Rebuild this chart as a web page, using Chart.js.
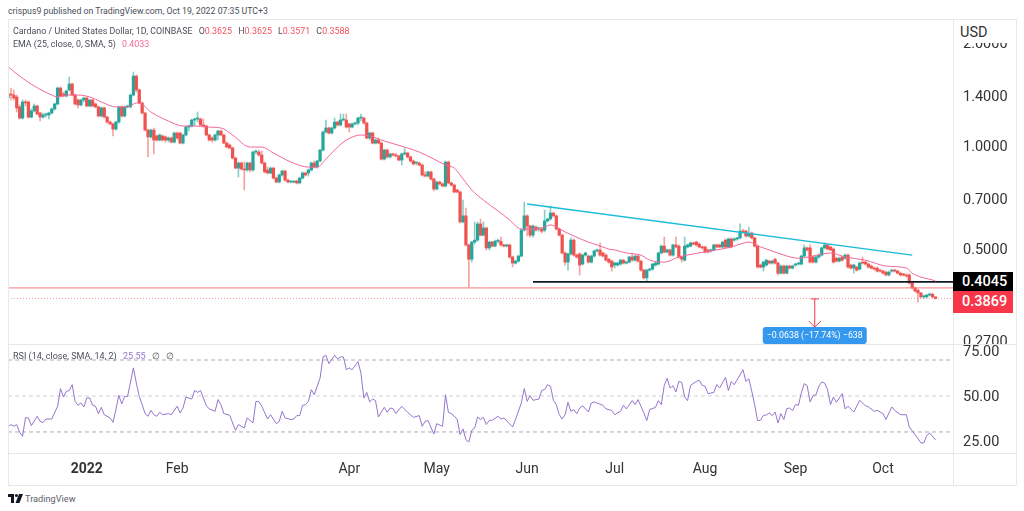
<!DOCTYPE html>
<html>
<head>
<meta charset="utf-8">
<script src="https://cdn.jsdelivr.net/npm/chart.js@4"></script>
<style>
body { margin: 0; background: #fff; font-family: Roboto, sans-serif; color: #4a4e58; }
.abs { position: absolute; white-space: nowrap; }
.line { position: absolute; background: #e6e8ee; }
canvas { position: absolute; }
.red { color: #f7525f; }
.gap { margin-left: 4px; }
.tag { position: absolute; left: 953px; width: 51px; padding-left: 9px; color: #fff; font-size: 14.5px; font-weight: 500; }
</style>
</head>
<body>
<div class="abs" style="left:8px;top:6px;font-size:8.75px">crispus9 published on TradingView.com, Oct 19, 2022 07:35 UTC+3</div>
<canvas id="priceChart" width="1008" height="325" style="left:8px;top:19px"></canvas>
<canvas id="rsiChart" width="1008" height="141" style="left:8px;top:344px"></canvas>
<div class="line" style="left:8px;top:19px;width:1008px;height:1px"></div>
<div class="line" style="left:8px;top:344px;width:1008px;height:1px"></div>
<div class="line" style="left:8px;top:453px;width:1008px;height:1px"></div>
<div class="line" style="left:8px;top:485px;width:1008px;height:1px"></div>
<div class="line" style="left:8px;top:19px;width:1px;height:466px"></div>
<div class="line" style="left:953px;top:19px;width:1px;height:466px"></div>
<div class="line" style="left:1016px;top:19px;width:1px;height:466px"></div>
<div class="abs" style="left:955px;top:21px;width:60px;height:22px;background:#fff"></div>
<div class="abs" style="left:960px;top:24px;font-size:14.5px;color:#333">USD</div>
<div class="abs" style="left:13px;top:26px;font-size:8.9px">Cardano / United States Dollar, 1D, COINBASE <span class="gap">O</span><span class="red">0.3625</span> <span class="gap">H</span><span class="red">0.3625</span> <span class="gap">L</span><span class="red">0.3571</span> <span class="gap">C</span><span class="red">0.3588</span></div>
<div class="abs" style="left:13px;top:39px;font-size:8.9px">EMA (25, close, 0, SMA, 5) <span class="gap" style="color:#f4679b">0.4033</span></div>
<div class="abs" style="left:13px;top:351px;font-size:9px">RSI (14, close, SMA, 14, 2) <span class="gap" style="color:#9575cd">25.55</span> <span class="gap">∅</span> <span class="gap">∅</span></div>
<div class="tag" style="top:272px;height:19px;line-height:19px;background:#000">0.4045</div>
<div class="tag" style="top:291px;height:22px;line-height:22px;background:#f7364a">0.3869</div>
<svg class="abs" style="left:8px;top:494px" width="15" height="9" viewBox="0 0 15 9"><path d="M0 0h6v9H3V3H0z M11 0h4l-3.5 9H7.5z" fill="#131722"/><circle cx="8.4" cy="1.5" r="1.5" fill="#131722"/></svg>
<div class="abs" style="left:25px;top:493px;font-size:9.2px;color:#5d606b">TradingView</div>

<script>
const priceTicks = [0.27, 0.5, 0.7, 1.0, 1.4, 2.0];
const rsiTicks = [25, 50, 75];
const rsiBands = [70, 50, 30];
const monthDays = [27, 58, 117, 147, 178, 208, 239, 270, 300];
const monthLabels = ['2022', 'Feb', 'Apr', 'May', 'Jun', 'Jul', 'Aug', 'Sep', 'Oct'];

const opens = [
1.381,1.419,1.409,1.391,1.301,1.207,1.345,1.345,1.215,
1.266,1.309,1.249,1.215,1.232,1.232,1.249,1.283,1.327,1.477,
1.419,1.400,1.458,1.518,1.409,1.363,1.318,1.363,1.381,1.309,
1.363,1.327,1.301,1.224,1.292,1.215,1.175,1.160,1.121,1.175,
1.301,1.224,1.301,1.301,1.409,1.601,1.458,1.336,1.249,1.113,
1.063,1.113,1.070,1.041,1.070,1.063,1.041,1.055,1.027,1.091,
1.091,1.020,1.077,1.136,1.144,1.191,1.199,1.199,1.152,1.144,
1.077,1.055,1.041,1.077,1.106,1.077,1.020,1.007,.987,.922,
.862,.892,.857,.851,.892,.851,.960,.960,.941,.892,
.851,.834,.862,.806,.785,.823,.845,.795,.785,.785,.790,
.780,.806,.834,.834,.851,.892,.868,.904,.973,1.099,
1.129,1.091,1.129,1.175,1.152,1.191,1.191,1.160,1.136,1.160,
1.167,1.207,1.207,1.167,1.055,1.091,1.020,1.041,1.020,.916,
.973,.929,.948,.941,.935,.910,.948,.954,.929,.904,
.892,.892,.880,.823,.817,.840,.801,.749,.785,.775,
.764,.898,.780,.769,.744,.734,.600,.625,.514,.467,
.524,.531,.592,.549,.576,.504,.524,.510,.527,.527,
.514,.510,.514,.474,.455,.461,.477,.568,.625,.584,
.549,.580,.572,.572,.568,.604,.612,.637,.625,.572,
.549,.487,.458,.484,.531,.480,.484,.452,.480,.477,
.458,.477,.494,.497,.487,.480,.467,.461,.449,.449,
.452,.464,.455,.458,.474,.464,.477,.461,.434,.412,
.434,.437,.449,.452,.487,.510,.490,.497,.480,.514,
.510,.474,.464,.507,.510,.521,.524,.517,.507,.507,.497,
.494,.497,.514,.514,.507,.531,.507,.535,.531,.535,
.539,.564,.564,.546,.557,.539,.510,.449,.443,
.449,.461,.455,.467,.455,.425,.446,.425,.446,.440,
.449,.452,.452,.477,.504,.504,.474,.458,.474,.480,
.504,.514,.507,.500,.470,.461,.474,.470,.480,.449,
.440,.443,.437,.458,.458,.452,.446,.440,.440,.434,
.431,.428,.420,.431,.434,.431,.425,.423,.420,.420,
.398,.385,.379,.372,.3625,.3625,.367,.369,.3625];

const closes = [
1.419,1.409,1.381,1.292,1.207,1.345,1.336,1.215,1.266,
1.309,1.240,1.215,1.232,1.232,1.249,1.283,1.327,1.477,1.400,
1.400,1.448,1.518,1.409,1.327,1.318,1.363,1.381,1.309,1.363,
1.309,1.301,1.224,1.292,1.215,1.175,1.160,1.121,1.175,1.301,
1.224,1.301,1.301,1.409,1.601,1.458,1.336,1.249,1.113,1.063,
1.113,1.041,1.041,1.077,1.041,1.041,1.055,1.027,1.091,1.055,
1.020,1.077,1.136,1.144,1.191,1.199,1.199,1.152,1.144,1.077,
1.041,1.041,1.077,1.106,1.077,1.020,.993,.987,.922,.862,
.892,.857,.851,.892,.851,.960,.960,.941,.892,.840,
.834,.862,.806,.785,.823,.845,.795,.785,.785,.785,.780,
.806,.834,.823,.851,.892,.868,.904,.973,1.099,1.129,
1.091,1.129,1.175,1.152,1.191,1.191,1.136,1.136,1.160,1.167,
1.207,1.207,1.167,1.055,1.091,1.020,1.041,1.020,.916,.973,
.929,.948,.941,.935,.910,.948,.954,.929,.904,.886,
.892,.880,.823,.817,.840,.801,.749,.785,.775,.764,
.898,.780,.769,.734,.734,.600,.625,.514,.467,.524,
.531,.592,.549,.576,.504,.524,.510,.527,.527,.514,
.510,.514,.474,.455,.461,.477,.568,.625,.584,.549,
.584,.568,.576,.564,.604,.612,.637,.625,.572,.549,
.487,.458,.484,.531,.480,.474,.449,.480,.487,.458,
.477,.494,.497,.480,.477,.464,.458,.443,.455,.455,
.464,.455,.458,.474,.464,.477,.461,.434,.412,.434,
.434,.452,.455,.487,.510,.490,.497,.480,.514,.507,
.474,.467,.510,.514,.521,.517,.514,.507,.504,.490,.490,
.497,.514,.507,.507,.524,.507,.535,.507,.535,.539,
.564,.561,.546,.553,.539,.510,.443,.443,.458,
.464,.455,.461,.455,.425,.446,.425,.446,.440,.446,
.452,.455,.477,.504,.497,.458,.458,.474,.480,.504,
.514,.500,.497,.458,.461,.470,.464,.480,.443,.440,
.449,.434,.455,.455,.452,.443,.440,.437,.431,.431,
.425,.420,.428,.434,.431,.425,.420,.420,.417,.398,
.385,.377,.372,.3625,.3625,.367,.369,.3625,.3588];

const highs = [
1.477,1.477,1.458,1.409,1.318,1.363,1.363,1.354,1.283,
1.327,1.318,1.257,1.249,1.249,1.257,1.292,1.336,1.487,1.487,
1.438,1.458,1.590,1.528,1.419,1.372,1.372,1.391,1.391,1.363,
1.372,1.336,1.309,1.301,1.301,1.224,1.183,1.167,1.183,1.309,
1.309,1.309,1.318,1.419,1.645,1.612,1.467,1.345,1.257,1.121,
1.121,1.129,1.077,1.084,1.077,1.070,1.063,1.063,1.099,1.099,
1.099,1.084,1.144,1.152,1.199,1.207,1.257,1.207,1.199,1.152,
1.084,1.063,1.084,1.113,1.113,1.084,1.027,1.014,.993,.929,
.898,.898,.898,.898,.898,.967,.973,.973,.967,.898,
.868,.868,.868,.812,.829,.851,.851,.801,.790,.790,.795,
.812,.840,.840,.857,.898,.904,.910,.980,1.106,1.191,
1.136,1.136,1.207,1.183,1.240,1.240,1.240,1.167,1.167,1.175,
1.215,1.240,1.215,1.175,1.099,1.099,1.048,1.055,1.027,.980,
.980,.954,.954,.954,.941,.954,.987,.960,.935,.910,
.898,.898,.886,.840,.845,.845,.806,.790,.790,.780,
.904,.904,.785,.775,.749,.739,.695,.659,.517,.527,
.600,.600,.612,.600,.580,.527,.527,.531,.535,.542,
.517,.517,.517,.477,.464,.480,.572,.686,.629,.588,
.588,.584,.580,.576,.650,.616,.668,.641,.629,.576,
.553,.490,.487,.539,.535,.484,.487,.484,.490,.480,
.480,.497,.500,.521,.490,.484,.470,.464,.458,.458,
.467,.467,.461,.477,.487,.480,.480,.464,.437,.437,
.440,.455,.458,.490,.514,.542,.500,.500,.517,.542,
.514,.477,.542,.517,.524,.524,.527,.521,.510,.510,.500,
.500,.517,.517,.517,.527,.535,.539,.539,.539,.542,
.592,.572,.568,.580,.561,.542,.514,.452,.461,
.467,.464,.464,.470,.458,.449,.449,.449,.449,.449,
.455,.458,.480,.514,.507,.514,.477,.477,.484,.507,
.521,.517,.510,.504,.474,.474,.477,.484,.484,.452,
.452,.446,.458,.474,.461,.455,.449,.443,.443,.437,
.434,.431,.431,.437,.437,.434,.428,.425,.423,.423,
.401,.387,.382,.374,.367,.369,.372,.372,.3625];

const lows = [
1.257,1.363,1.363,1.257,1.199,1.199,1.309,1.207,1.207,
1.257,1.232,1.183,1.207,1.215,1.199,1.240,1.274,1.318,1.391,
1.391,1.391,1.448,1.400,1.318,1.292,1.309,1.345,1.301,1.301,
1.301,1.292,1.215,1.215,1.207,1.167,1.152,1.070,1.113,1.167,
1.215,1.215,1.292,1.292,1.400,1.438,1.327,1.240,1.106,.929,
1.055,.948,1.034,1.034,1.034,1.027,1.027,1.020,1.020,1.048,
1.014,1.014,1.070,1.106,1.136,1.144,1.175,1.144,1.136,1.070,
1.034,1.027,1.034,1.041,1.070,1.014,.987,.980,.916,.857,
.812,.851,.744,.845,.840,.845,.948,.935,.886,.834,
.829,.829,.801,.780,.780,.817,.790,.780,.780,.780,.775,
.775,.801,.817,.817,.845,.862,.862,.898,.967,1.091,
1.084,1.084,1.121,1.144,1.144,1.183,1.129,1.099,1.129,1.152,
1.152,1.183,1.160,1.048,1.041,1.014,1.014,1.014,.910,.910,
.922,.922,.935,.929,.904,.880,.941,.922,.898,.880,
.880,.874,.817,.812,.812,.795,.739,.744,.769,.759,
.759,.775,.764,.729,.729,.596,.596,.510,.387,.458,
.517,.527,.546,.546,.497,.497,.507,.507,.521,.510,
.507,.507,.470,.443,.452,.458,.474,.564,.546,.542,
.542,.564,.564,.557,.561,.600,.608,.620,.568,.546,
.484,.449,.434,.480,.477,.470,.420,.449,.477,.455,
.455,.474,.490,.477,.474,.461,.455,.431,.440,.446,
.449,.452,.452,.455,.461,.461,.458,.431,.409,.401,
.431,.434,.446,.449,.484,.487,.487,.477,.477,.504,
.470,.458,.461,.504,.507,.514,.510,.504,.500,.487,.487,
.490,.494,.504,.504,.504,.504,.504,.504,.527,.531,
.535,.557,.542,.542,.535,.507,.440,.440,.431,
.446,.452,.452,.452,.420,.423,.423,.423,.437,.437,
.446,.449,.449,.474,.494,.455,.455,.455,.470,.477,
.500,.497,.494,.455,.458,.458,.461,.467,.440,.437,
.425,.431,.434,.452,.449,.440,.437,.434,.428,.428,
.423,.417,.417,.428,.428,.423,.417,.417,.414,.395,
.382,.374,.350,.360,.358,.360,.365,.360,.3571];

const emaDays = [0,4,9,15,17,20,24,28,32,37,41,44,45,49,55,60,64,68,73,77,83,87,91,97,103,106,109,113,116,121,124,129,136,141,146,150,153,155,159,163,168,172,175,177,180,184,186,188,191,194,199,202,206,208,212,217,220,225,230,235,241,248,252,254,258,261,266,271,276,282,287,294,301,308,310,313,317,318];
const emaValues = [1.705,1.601,1.497,1.409,1.391,1.409,1.409,1.391,1.345,1.301,1.301,1.336,1.336,1.257,1.183,1.144,1.144,1.136,1.129,1.077,.993,.993,.954,.898,.868,.868,.916,.993,1.041,1.077,1.070,1.034,.993,.960,.916,.880,.862,.823,.744,.695,.646,.608,.576,.572,.572,.580,.588,.580,.561,.546,.524,.514,.500,.497,.487,.480,.464,.458,.474,.484,.494,.507,.520,.524,.507,.497,.480,.470,.477,.487,.474,.464,.446,.440,.425,.414,.406,.4033];

const rsiDays = [0,1,2,3,4,5,6,7,8,10,11,12,13,15,17,18,19,20,21,22,23,24,25,26,27,28,29,30,31,32,33,35,36,37,38,39,40,41,43,44,45,46,47,48,49,50,51,52,53,55,56,58,59,60,61,63,64,65,66,68,69,71,72,73,74,76,78,79,81,82,84,85,86,87,89,90,92,93,94,95,97,98,99,100,101,102,103,104,105,107,108,109,110,112,113,114,115,116,117,118,120,121,122,123,124,125,126,127,129,130,131,132,133,135,137,139,141,142,143,144,146,147,149,150,151,152,154,155,156,157,158,159,160,161,162,163,164,165,166,168,169,170,173,174,176,177,178,179,180,182,183,184,185,186,187,188,189,190,191,192,193,194,195,196,197,199,200,201,204,205,207,208,210,211,212,214,215,216,218,219,220,222,223,224,225,226,227,228,229,230,231,232,233,234,236,237,238,239,240,242,243,244,246,247,248,249,252,253,254,255,256,257,258,259,260,261,262,263,264,265,266,267,268,269,270,271,272,273,274,275,276,277,278,279,280,281,282,283,284,286,287,288,290,292,294,295,297,298,300,301,303,304,306,308,309,311,312,313,314,315,316,317,318];
const rsiValues = [32.8,34.1,33.2,34.1,29.8,27.6,38.0,37.8,33.5,38.7,35.9,35.2,37.2,37.2,44.3,54.1,49.4,52.6,53.0,56.3,47.0,44.8,46.1,43.9,48.9,48.9,44.8,44.3,40.2,43.7,39.6,37.8,35.4,42.4,50.4,45.6,49.8,49.8,65.6,57.2,49.8,45.2,40.2,38.7,42.0,39.6,38.7,40.9,39.6,40.2,39.6,44.3,40.6,43.3,49.4,48.3,53.1,52.0,53.0,44.6,42.8,41.5,48.0,45.2,40.2,39.3,30.9,34.1,32.2,37.8,35.0,47.0,46.9,44.3,37.2,39.6,34.6,35.9,41.5,37.8,36.9,37.2,39.1,39.1,44.8,45.2,47.0,53.5,50.7,60.0,71.7,72.6,68.0,72.6,70.6,71.7,71.7,64.6,65.6,64.6,69.1,62.8,48.9,52.0,46.7,48.3,47.4,38.3,43.7,40.9,43.3,43.0,40.2,44.3,40.9,38.1,39.1,33.1,35.9,36.3,28.9,34.6,33.1,50.7,40.9,40.2,37.2,28.5,31.7,25.7,24.4,30.9,32.2,38.3,36.9,38.1,34.1,36.5,36.5,38.7,37.2,37.8,32.8,36.9,46.1,54.1,47.0,50.2,47.6,48.3,53.1,53.5,56.3,55.4,47.6,45.2,39.6,37.2,39.6,46.5,41.5,42.4,40.2,43.3,44.6,41.1,46.1,46.7,44.8,42.9,41.9,39.6,41.5,44.8,42.8,47.4,45.2,48.0,40.6,36.3,42.4,43.7,47.4,45.2,55.9,59.8,54.4,55.7,52.2,58.1,57.6,49.4,47.4,55.9,58.1,58.7,55.9,55.4,51.3,52.0,56.3,54.4,60.4,53.0,58.1,56.3,64.6,58.1,59.6,52.6,45.2,36.3,36.5,39.3,39.4,40.6,39.1,41.1,35.0,40.2,36.9,43.0,43.3,41.9,45.2,44.8,51.7,56.9,55.7,46.7,50.2,50.6,55.4,57.8,57.2,53.5,45.2,49.4,46.5,51.3,42.8,44.3,41.1,47.6,44.6,43.9,41.5,42.0,40.2,36.9,43.9,42.0,39.6,39.6,32.8,28.5,26.3,23.9,23.9,28.1,29.4,27.6,25.55];

const trendDays = [178, 310];
const trendValues = [0.677, 0.480];
const supportDays = [180, 324];
const supportValues = [0.401, 0.401];
const levelDays = [0, 324];
const levelValues = [0.385, 0.385];
const lastCloseValues = [0.3588, 0.3588];
const measureDay = 276.6;
const measureFrom = 0.3575;
const measureTo = 0.2958;
const measureLabel = '−0.0638 (−17.74%) −638';

// one label per day, six empty days after the last bar
const days = [];
for (let i = 0; i < 325; i++) {
    days.push(new Date(Date.UTC(2021, 11, 5 + i)).toISOString().slice(0, 10));
}

const axisFont = { family: 'Roboto, sans-serif', size: 14.5 };
const pick = (dayList, values) => dayList.map((d, k) => ({ x: days[d], y: values[k] }));
const candleColors = closes.map((c, i) => c >= opens[i] ? '#26a69a' : '#ef5350');
const wickColors = closes.map((c, i) => c >= opens[i] ? 'rgba(38,166,154,0.55)' : 'rgba(239,83,80,0.55)');

const lineSet = (data, color, width, extra) => Object.assign({
    type: 'line', data: data, borderColor: color, borderWidth: width,
    pointRadius: 0, order: 1, fill: false
}, extra);

const sideAxis = {
    position: 'right',
    grid: { display: false, drawTicks: false },
    border: { display: false },
    afterFit: s => { s.width = 63; s.paddingTop = 0; s.paddingBottom = 0; }
};

const measurePlugin = {
    id: 'measure',
    afterDatasetsDraw(chart) {
        const c = chart.ctx, x = chart.scales.x.getPixelForValue(measureDay);
        const top = chart.scales.y.getPixelForValue(measureFrom);
        const bottom = chart.scales.y.getPixelForValue(measureTo);
        c.save();
        c.strokeStyle = '#f23645';
        c.lineWidth = 1;
        c.beginPath();
        c.moveTo(x - 4, top); c.lineTo(x + 4, top);
        c.moveTo(x, top); c.lineTo(x, bottom);
        c.moveTo(x - 6, bottom - 6); c.lineTo(x, bottom); c.lineTo(x + 6, bottom - 6);
        c.stroke();
        c.fillStyle = '#3598ef';
        c.beginPath();
        c.roundRect(x - 52, bottom, 104, 17, 3);
        c.fill();
        c.fillStyle = '#fff';
        c.font = '8.8px Roboto, sans-serif';
        c.textAlign = 'center';
        c.textBaseline = 'middle';
        c.fillText(measureLabel, x, bottom + 8.5);
        c.restore();
    }
};

new Chart(document.getElementById('priceChart'), {
    type: 'bar',
    data: {
        labels: days,
        datasets: [
            { data: closes.map((c, i) => [lows[i], highs[i]]), backgroundColor: wickColors, barThickness: 1, grouped: false, order: 6 },
            { data: closes.map((c, i) => [opens[i], c]), backgroundColor: candleColors, barThickness: 2.6, minBarLength: 1, grouped: false, order: 5 },
            lineSet(pick(emaDays, emaValues), '#f4679b', 1, { cubicInterpolationMode: 'monotone' }),
            lineSet(pick(trendDays, trendValues), '#19bcd6', 1.5),
            lineSet(pick(supportDays, supportValues), '#131722', 1.8),
            lineSet(pick(levelDays, levelValues), '#f77c80', 1),
            lineSet(pick(levelDays, lastCloseValues), 'rgba(239,83,80,0.6)', 1, { borderDash: [1, 2] })
        ]
    },
    options: {
        responsive: false,
        animation: false,
        layout: { padding: 0 },
        plugins: { legend: { display: false }, tooltip: { enabled: false } },
        scales: {
            x: { type: 'category', display: false, offset: false },
            y: Object.assign({}, sideAxis, {
                type: 'logarithmic',
                min: 0.264,
                max: 2.35,
                afterBuildTicks: s => { s.ticks = priceTicks.map(v => ({ value: v })); },
                ticks: { font: axisFont, color: '#333', padding: 10, labelOffset: 1.5, crossAlign: 'near', callback: v => Number(v).toFixed(4) }
            })
        }
    },
    plugins: [measurePlugin]
});

new Chart(document.getElementById('rsiChart'), {
    type: 'line',
    data: {
        labels: days,
        datasets: [
            lineSet(pick(rsiDays, rsiValues), '#9575cd', 1),
            lineSet(pick(levelDays, [rsiBands[0], rsiBands[0]]), '#abaeb6', 1, { borderDash: [4, 3], order: 2 }),
            lineSet(pick(levelDays, [rsiBands[1], rsiBands[1]]), '#cfd1d6', 1, { borderDash: [4, 3], order: 2 }),
            lineSet(pick(levelDays, [rsiBands[2], rsiBands[2]]), '#abaeb6', 1, { borderDash: [4, 3], order: 2 })
        ]
    },
    options: {
        responsive: false,
        animation: false,
        layout: { padding: 0 },
        plugins: { legend: { display: false }, tooltip: { enabled: false } },
        scales: {
            x: {
                type: 'category',
                offset: false,
                grid: { display: false, drawTicks: false },
                border: { display: false },
                afterBuildTicks: s => { s.ticks = monthDays.map(d => ({ value: d })); },
                afterFit: s => { s.height = 32; s.paddingLeft = 0; s.paddingRight = 0; },
                ticks: {
                    autoSkip: false,
                    maxRotation: 0,
                    padding: 8.5,
                    color: '#333',
                    callback: (v, i) => monthLabels[i],
                    font: ctx => ({ family: 'Roboto, sans-serif', size: 14, weight: ctx.index === 0 ? 'bold' : 'normal' })
                }
            },
            y: Object.assign({}, sideAxis, {
                min: 18.3,
                max: 78.9,
                afterBuildTicks: s => { s.ticks = rsiTicks.map(v => ({ value: v })); },
                ticks: { font: axisFont, color: '#333', padding: 10, labelOffset: 1.5, crossAlign: 'near', callback: v => v.toFixed(2) }
            })
        }
    }
});
</script>
</body>
</html>
